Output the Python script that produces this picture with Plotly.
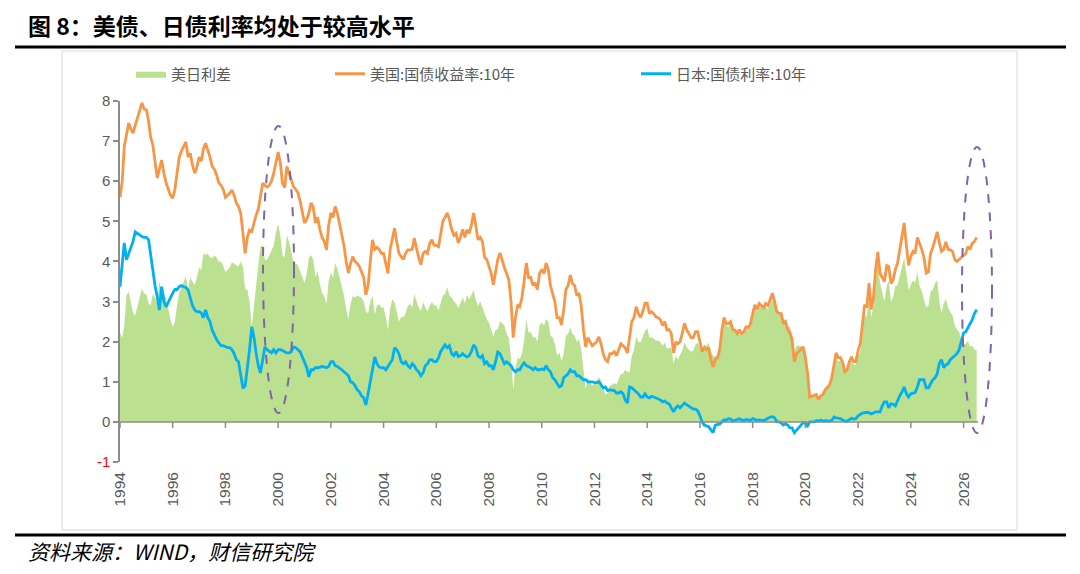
import pandas as pd
import plotly.graph_objects as go

# ---------------- data (monthly) ----------------
start_month = "1994-01-01"

us_10y = [
    5.6, 6.0, 6.86, 7.2, 7.45, 7.3, 7.2, 7.4, 7.6, 7.8, 7.95, 7.8,        # 1994
    7.78, 7.5, 7.1, 6.9, 6.5, 6.08, 6.3, 6.53, 6.2, 5.96, 5.8, 5.65,      # 1995
    5.58, 5.8, 6.2, 6.6, 6.75, 6.85, 6.98, 6.6, 6.7, 6.4, 6.2, 6.35,      # 1996
    6.6, 6.5, 6.8, 6.95, 6.8, 6.6, 6.37, 6.3, 6.15, 5.96, 5.9, 5.8,       # 1997
    5.6, 5.65, 5.7, 5.78, 5.65, 5.45, 5.37, 5.2, 4.7, 4.2, 4.6, 4.78,     # 1998
    4.75, 5.0, 5.15, 5.3, 5.6, 5.95, 5.9, 5.85, 5.9, 6.0, 6.2, 6.45,      # 1999
    6.73, 6.45, 5.95, 5.84, 6.37, 6.2, 6.0, 5.86, 5.8, 5.71, 5.5, 5.2,    # 2000
    4.96, 5.05, 5.2, 5.46, 5.35, 4.96, 5.1, 4.8, 4.6, 4.5, 4.29, 4.9,     # 2001
    5.21, 5.1, 5.37, 5.2, 4.96, 4.7, 4.4, 4.0, 3.71, 3.95, 4.12, 4.0,     # 2002
    3.95, 3.87, 3.75, 3.6, 3.17, 3.4, 4.0, 4.54, 4.3, 4.35, 4.3, 4.2,     # 2003
    4.2, 3.9, 3.7, 4.3, 4.6, 4.83, 4.5, 4.2, 4.12, 4.05, 4.2, 4.29,       # 2004
    4.29, 4.3, 4.58, 4.3, 4.1, 3.92, 4.2, 4.25, 4.2, 4.45, 4.54, 4.4,     # 2005
    4.4, 4.37, 4.7, 5.0, 5.1, 5.21, 5.05, 4.8, 4.65, 4.7, 4.46, 4.6,      # 2006
    4.8, 4.6, 4.79, 4.7, 4.9, 5.21, 4.9, 4.54, 4.6, 4.5, 4.1, 4.05,       # 2007
    3.87, 3.7, 3.42, 3.8, 4.05, 4.21, 4.0, 3.85, 3.7, 3.54, 3.0, 2.1,     # 2008
    2.6, 2.9, 2.87, 3.1, 3.5, 3.96, 3.6, 3.6, 3.4, 3.47, 3.3, 3.7,        # 2009
    3.8, 3.7, 3.96, 3.8, 3.4, 3.21, 3.0, 2.6, 2.6, 2.42, 2.8, 3.3,        # 2010
    3.4, 3.66, 3.45, 3.4, 3.15, 3.21, 2.9, 2.3, 1.87, 2.1, 2.0, 1.9,      # 2011
    1.95, 2.0, 2.12, 1.95, 1.7, 1.55, 1.5, 1.7, 1.7, 1.75, 1.65, 1.8,     # 2012
    1.95, 1.9, 1.85, 1.72, 2.1, 2.5, 2.6, 2.87, 2.7, 2.6, 2.75, 2.96,     # 2013
    2.96, 2.7, 2.75, 2.7, 2.62, 2.6, 2.55, 2.4, 2.5, 2.29, 2.3, 2.2,      # 2014
    1.72, 2.0, 1.95, 2.0, 2.2, 2.46, 2.3, 2.2, 2.1, 2.1, 2.25, 2.25,      # 2015
    2.0, 1.75, 1.85, 1.8, 1.85, 1.55, 1.37, 1.55, 1.6, 1.8, 2.3, 2.6,     # 2016
    2.45, 2.45, 2.5, 2.3, 2.29, 2.2, 2.3, 2.2, 2.25, 2.37, 2.35, 2.45,    # 2017
    2.7, 2.92, 2.8, 2.95, 2.9, 2.85, 2.95, 2.9, 3.05, 3.21, 3.0, 2.75,    # 2018
    2.71, 2.7, 2.45, 2.5, 2.3, 2.21, 2.05, 1.5, 1.7, 1.75, 1.8, 1.87,     # 2019
    1.6, 1.2, 0.62, 0.65, 0.66, 0.68, 0.55, 0.65, 0.68, 0.8, 0.86, 0.92,  # 2020
    1.1, 1.45, 1.72, 1.6, 1.6, 1.48, 1.25, 1.3, 1.5, 1.62, 1.5, 1.5,      # 2021
    1.78, 1.96, 2.35, 2.92, 2.85, 3.46, 2.8, 3.1, 3.8, 4.24, 3.7, 3.6,    # 2022
    3.5, 3.9, 3.87, 3.45, 3.54, 3.8, 3.95, 4.29, 4.6, 4.96, 4.4, 3.9,     # 2023
    4.12, 4.25, 4.2, 4.6, 4.45, 4.3, 4.1, 3.71, 3.74, 4.2, 4.35, 4.55,    # 2024
    4.74, 4.45, 4.25, 4.3, 4.49, 4.3, 4.29, 4.25, 4.05, 4.0, 4.05, 4.1,   # 2025
    4.15, 4.2, 4.37, 4.3, 4.45, 4.5, 4.6,                                 # 2026
]

jp_10y = [
    3.37, 3.9, 4.46, 4.04, 4.2, 4.37, 4.5, 4.74, 4.7, 4.65, 4.62, 4.6,    # 1994
    4.6, 4.54, 4.2, 3.71, 3.4, 3.12, 2.79, 3.37, 3.0, 2.87, 3.0, 3.1,     # 1995
    3.21, 3.3, 3.3, 3.37, 3.4, 3.37, 3.35, 3.29, 3.1, 2.9, 2.79, 2.75,    # 1996
    2.75, 2.71, 2.6, 2.79, 2.6, 2.5, 2.29, 2.15, 2.05, 1.97, 1.9, 1.9,    # 1997
    1.87, 1.85, 1.85, 1.8, 1.7, 1.55, 1.5, 1.2, 0.84, 0.9, 1.3, 1.8,      # 1998
    2.37, 2.1, 1.72, 1.4, 1.22, 1.55, 1.87, 1.8, 1.75, 1.72, 1.8, 1.72,   # 1999
    1.8, 1.8, 1.78, 1.75, 1.72, 1.72, 1.75, 1.87, 1.85, 1.8, 1.75, 1.62,  # 2000
    1.5, 1.35, 1.12, 1.3, 1.3, 1.35, 1.35, 1.37, 1.38, 1.37, 1.35, 1.38,  # 2001
    1.5, 1.5, 1.4, 1.38, 1.35, 1.3, 1.25, 1.2, 1.15, 1.0, 0.98, 0.9,      # 2002
    0.8, 0.75, 0.65, 0.6, 0.42, 0.7, 1.0, 1.4, 1.62, 1.45, 1.37, 1.35,    # 2003
    1.35, 1.3, 1.4, 1.47, 1.55, 1.85, 1.8, 1.7, 1.5, 1.45, 1.5, 1.4,      # 2004
    1.35, 1.45, 1.4, 1.3, 1.25, 1.15, 1.22, 1.4, 1.45, 1.55, 1.55, 1.5,   # 2005
    1.5, 1.6, 1.75, 1.85, 1.92, 1.85, 1.9, 1.7, 1.65, 1.75, 1.63, 1.65,   # 2006
    1.7, 1.65, 1.62, 1.65, 1.75, 1.92, 1.85, 1.65, 1.6, 1.65, 1.45, 1.5,  # 2007
    1.4, 1.4, 1.3, 1.5, 1.74, 1.7, 1.55, 1.45, 1.5, 1.45, 1.4, 1.3,       # 2008
    1.25, 1.3, 1.3, 1.4, 1.47, 1.4, 1.38, 1.35, 1.3, 1.35, 1.3, 1.3,      # 2009
    1.32, 1.3, 1.4, 1.3, 1.25, 1.1, 1.05, 0.95, 0.87, 0.9, 1.1, 1.15,     # 2010
    1.2, 1.3, 1.25, 1.25, 1.15, 1.15, 1.1, 1.05, 1.05, 1.0, 1.0, 1.0,     # 2011
    0.98, 0.98, 1.0, 0.92, 0.85, 0.87, 0.78, 0.8, 0.78, 0.78, 0.72, 0.72, # 2012
    0.75, 0.7, 0.55, 0.47, 0.87, 0.85, 0.8, 0.75, 0.7, 0.62, 0.62, 0.7,   # 2013
    0.62, 0.6, 0.64, 0.62, 0.6, 0.57, 0.55, 0.5, 0.52, 0.47, 0.45, 0.35,  # 2014
    0.25, 0.35, 0.4, 0.35, 0.42, 0.47, 0.43, 0.4, 0.35, 0.32, 0.32, 0.28, # 2015
    0.15, 0.0, -0.08, -0.1, -0.12, -0.2, -0.27, -0.08, -0.07, -0.05, 0.0, 0.05,  # 2016
    0.05, 0.08, 0.07, 0.02, 0.04, 0.06, 0.08, 0.05, 0.03, 0.06, 0.04, 0.04,      # 2017
    0.08, 0.06, 0.04, 0.05, 0.04, 0.03, 0.06, 0.1, 0.12, 0.13, 0.1, 0.0,         # 2018
    0.0, -0.03, -0.08, -0.05, -0.08, -0.15, -0.15, -0.27, -0.2, -0.15, -0.08, -0.02,  # 2019
    -0.03, -0.1, 0.0, 0.0, 0.0, 0.03, 0.02, 0.04, 0.02, 0.03, 0.02, 0.02,        # 2020
    0.04, 0.12, 0.1, 0.09, 0.08, 0.05, 0.02, 0.02, 0.06, 0.09, 0.07, 0.08,       # 2021
    0.15, 0.2, 0.22, 0.23, 0.24, 0.23, 0.2, 0.22, 0.25, 0.25, 0.25, 0.4,         # 2022
    0.5, 0.5, 0.35, 0.45, 0.44, 0.4, 0.55, 0.65, 0.75, 0.87, 0.7, 0.62,          # 2023
    0.7, 0.72, 0.73, 0.87, 1.05, 1.05, 1.05, 0.85, 0.85, 0.95, 1.05, 1.1,        # 2024
    1.2, 1.47, 1.55, 1.35, 1.42, 1.45, 1.55, 1.6, 1.65, 1.7, 1.8, 2.05,          # 2025
    2.22, 2.25, 2.35, 2.42, 2.55, 2.7, 2.8,                                      # 2026
]

x_range = ["1994-01-01", "2026-07-20"]
x_tick_start, x_tick_end = "1994-01-01", "2026-01-01"
y_ticks = [-1, 0, 1, 2, 3, 4, 5, 6, 7, 8]

title_text = "图 8：美债、日债利率均处于较高水平"
source_text = "资料来源：WIND，财信研究院"
name_spread = "美日利差"
name_us = "美国:国债收益率:10年"
name_jp = "日本:国债利率:10年"

dates = pd.date_range(start_month, periods=len(us_10y), freq="MS")
spread = [round(u - j, 2) for u, j in zip(us_10y, jp_10y)]
tick_dates = pd.date_range(x_tick_start, x_tick_end, freq="24MS")

# ---------------- layout helpers ----------------
# the page body has an 8px margin, so the figure is offset by 8px
OFF = 8
W, H = 1080 - 2 * OFF, 574 - 2 * OFF
PLOT_L, PLOT_R, PLOT_T, PLOT_B = 120, 978, 101, 462   # target pixel box (window coords)
ML, MR = PLOT_L - OFF, (W + OFF) - PLOT_R
MT, MB = PLOT_T - OFF, (H + OFF) - PLOT_B
PW, PH = PLOT_R - PLOT_L, PLOT_B - PLOT_T


def px_x(px):
    return (px - PLOT_L) / PW


def px_y(py):
    return (PLOT_B - py) / PH


GRAY = "#595959"
AXIS = "#8c8c8c"
CJK = "Noto Sans CJK SC"

fig = go.Figure()
fig.add_trace(go.Scatter(
    x=dates, y=spread, name=name_spread, mode="lines",
    line=dict(width=0, color="rgb(187,224,143)"),
    fill="tozeroy", fillcolor="rgb(187,224,143)", legend="legend",
))
fig.add_trace(go.Scatter(
    x=dates, y=us_10y, name=name_us, mode="lines",
    line=dict(width=2.8, color="#f79646"), legend="legend2",
))
fig.add_trace(go.Scatter(
    x=dates, y=jp_10y, name=name_jp, mode="lines",
    line=dict(width=2.8, color="#00b0f0"), legend="legend3",
))

tick_font = dict(family="Liberation Sans, Arial, sans-serif", size=15.5, color=GRAY)
ticktext = [("<span style='color:#ff0000'>%d</span>" % v) if v < 0 else str(v) for v in y_ticks]

fig.update_layout(
    width=W, height=H, autosize=False,
    margin=dict(l=ML, r=MR, t=MT, b=MB, autoexpand=False),
    paper_bgcolor="white", plot_bgcolor="white",
    xaxis=dict(
        type="date", range=x_range, showline=False, showgrid=False, zeroline=False,
        ticks="", tickformat="%Y", dtick="M24", tick0=x_tick_start,
        tickangle=-90, tickfont=tick_font, ticklabelstandoff=6,
    ),
    yaxis=dict(
        range=[-1, 8], showline=True, linecolor=AXIS, linewidth=1.5,
        showgrid=False, zeroline=False, ticks="outside", ticklen=5,
        tickwidth=1.5, tickcolor=AXIS, tickvals=y_ticks, ticktext=ticktext,
        tickfont=dict(family="Liberation Sans, Arial, sans-serif", size=15, color=GRAY),
    ),
    showlegend=True,
)

leg_common = dict(orientation="h", xanchor="left", yanchor="middle", y=px_y(74),
                  bgcolor="rgba(0,0,0,0)", font=dict(family=CJK, size=15, color=GRAY),
                  itemwidth=30)
fig.update_layout(
    legend=dict(x=px_x(131), **leg_common),
    legend2=dict(x=px_x(330), **leg_common),
    legend3=dict(x=px_x(636), **leg_common),
)

shapes = [
    # outer frame of chart area
    dict(type="rect", xref="paper", yref="paper",
         x0=px_x(62), x1=px_x(1017), y0=px_y(530), y1=px_y(51),
         line=dict(color="#d9d9d9", width=1), fillcolor="rgba(0,0,0,0)", layer="below"),
    # title rule
    dict(type="line", xref="paper", yref="paper",
         x0=px_x(15), x1=px_x(1066), y0=px_y(47), y1=px_y(47),
         line=dict(color="black", width=3)),
    # source rule
    dict(type="line", xref="paper", yref="paper",
         x0=px_x(15), x1=px_x(1066), y0=px_y(535), y1=px_y(535),
         line=dict(color="black", width=3)),
    # category axis crossing at y = 0
    dict(type="line", xref="paper", yref="y", x0=0, x1=1, y0=0, y1=0,
         line=dict(color=AXIS, width=1.5)),
    # highlight ellipses
    dict(type="circle", xref="paper", yref="paper",
         x0=px_x(263), x1=px_x(294), y0=px_y(413), y1=px_y(126),
         line=dict(color="#7f64a6", width=2, dash="dash")),
    dict(type="circle", xref="paper", yref="paper",
         x0=px_x(962), x1=px_x(992), y0=px_y(433), y1=px_y(147),
         line=dict(color="#7f64a6", width=2, dash="dash")),
]
# tick marks on the y = 0 axis, one per x tick
for d in tick_dates:
    shapes.append(dict(type="line", xref="x", yref="paper",
                       x0=d, x1=d, y0=px_y(422), y1=px_y(428),
                       line=dict(color=AXIS, width=1.5)))
fig.update_layout(shapes=shapes)

fig.add_annotation(
    text="<b>" + title_text + "</b>", xref="paper", yref="paper",
    x=px_x(26), y=px_y(25), xanchor="left", yanchor="middle", showarrow=False,
    font=dict(family=CJK, size=23, color="black"),
)
fig.add_annotation(
    text="<i>" + source_text + "</i>", xref="paper", yref="paper",
    x=px_x(26), y=px_y(551), xanchor="left", yanchor="middle", showarrow=False,
    font=dict(family=CJK, size=21, color="black"),
)

fig.write_html("out.html")
